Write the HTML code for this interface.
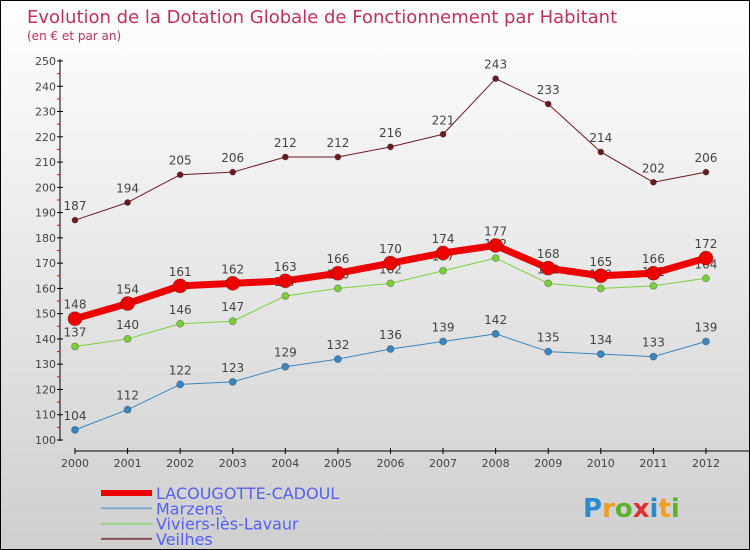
<!DOCTYPE html>
<html><head><meta charset="utf-8"><style>
html,body{margin:0;padding:0}
body{width:750px;height:550px;overflow:hidden;font-family:"DejaVu Sans","Liberation Sans",sans-serif}
#c{position:absolute;left:0;top:0;width:748px;height:548px;border:1px solid #000;background:linear-gradient(#ffffff,#cfcfcf)}
</style></head><body>
<div id="c">
<svg id="s" width="748" height="548" style="position:absolute;left:0;top:0"></svg>
</div>
<script>
const years=[2000,2001,2002,2003,2004,2005,2006,2007,2008,2009,2010,2011,2012];
const lacougotte=[148,154,161,162,163,166,170,174,177,168,165,166,172];
const marzens=[104,112,122,123,129,132,136,139,142,135,134,133,139];
const viviers=[137,140,146,147,157,160,162,167,172,162,160,161,164];
const veilhes=[187,194,205,206,212,212,216,221,243,233,214,202,206];
const yTicks=[100,110,120,130,140,150,160,170,180,190,200,210,220,230,240,250];
const NS='http://www.w3.org/2000/svg';
const s=document.getElementById('s');
const X=i=>74+i*52.58;
const Y=v=>439-(v-100)*(379/150);
function el(t,a,p){const e=document.createElementNS(NS,t);for(const k in a)e.setAttribute(k,a[k]);(p||s).appendChild(e);return e;}
let t=el('text',{x:26,y:22,fill:'#c0305a','font-size':18});t.textContent='Evolution de la Dotation Globale de Fonctionnement par Habitant';

t=el('text',{x:26,y:39,fill:'#c0305a','font-size':12});t.textContent='(en € et par an)';

let ax=el('line',{x1:59,y1:58,x2:59,y2:440,stroke:'#000','stroke-width':1});

yTicks.forEach((v,i)=>{
 el('line',{x1:56,y1:Y(v),x2:62,y2:Y(v),stroke:'#000'});
 if(i<yTicks.length-1)el('line',{x1:56,y1:Y(v+5),x2:59,y2:Y(v+5),stroke:'#e00'});
 const tt=el('text',{x:55,y:Y(v)+4,'text-anchor':'end','font-size':11,fill:'#444'});tt.textContent=v;
 
});
ax=el('line',{x1:74,y1:450,x2:748,y2:450,stroke:'#000'});

years.forEach((y,i)=>{
 el('line',{x1:X(i),y1:447,x2:X(i),y2:453,stroke:'#000'});
 const tt=el('text',{x:X(i),y:466,'text-anchor':'middle','font-size':11,fill:'#444'});tt.textContent=y;
 
});
function series(d,color,w,r,name){
 const g=el('g',{});
 el('polyline',{points:d.map((v,i)=>X(i)+','+Y(v)).join(' '),fill:'none',stroke:color,'stroke-width':w,'stroke-linejoin':'round'},g);
 d.forEach((v,i)=>{
  const c=el('circle',{cx:X(i),cy:Y(v),r:r,fill:color,stroke:'rgba(0,0,0,0.25)','stroke-width':1},g);
  
  const tt=el('text',{x:X(i),y:Y(v)-10,'text-anchor':'middle','font-size':12,fill:'#444'},g);tt.textContent=v;
 });
}
series(veilhes,'#6b1a22',1,3,'series-veilhes');
series(marzens,'#3a86c0',1,3.5,'series-marzens');
series(viviers,'#7ccf3a',1,3.5,'series-viviers');
series(lacougotte,'#ee0000',7,7,'series-lacougotte');
const leg=[['LACOUGOTTE-CADOUL','#ee0000',6],['Marzens','#7aaad0',2],['Viviers-lès-Lavaur','#98d480',2],['Veilhes','#8a5050',2]];
leg.forEach((l,i)=>{
 const y=492+i*15.3;
 const g=el('g',{});
 el('line',{x1:100,y1:y,x2:151,y2:y,stroke:l[1],'stroke-width':l[2]},g);
 const tt=el('text',{x:155,y:y+6,'font-size':16,fill:'#5560ee'},g);tt.textContent=l[0];
});
t=el('text',{x:582,y:516,'font-size':26,'font-weight':'bold',fill:'#2a8ad0'});

const logoCols=['#2a8ad0','#f0a020','#60b030','#e03030','#2a8ad0','#f0a020','#60b030'];
'Proxiti'.split('').forEach((ch,i)=>{const sp=el('tspan',{fill:logoCols[i]},t);sp.textContent=ch;});
</script>
</body></html>
